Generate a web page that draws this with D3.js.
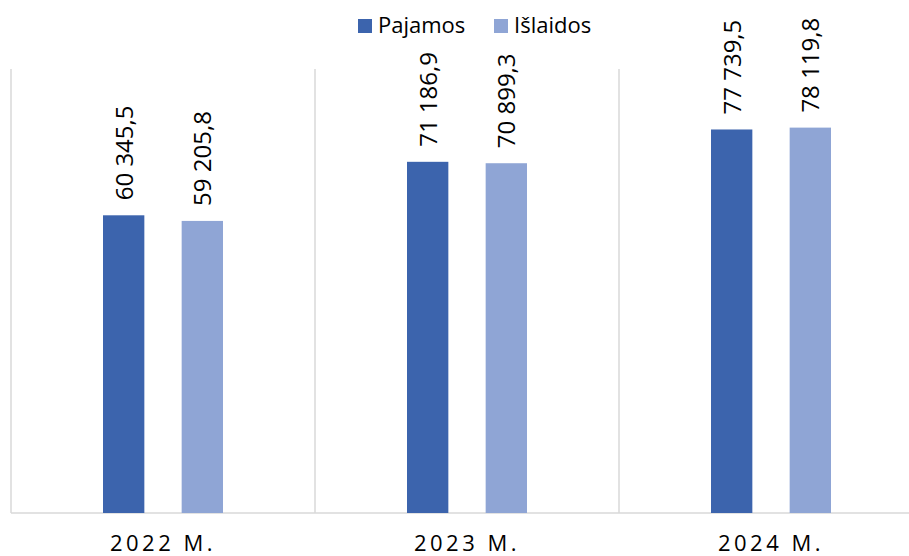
<!DOCTYPE html>
<html>
<head>
<meta charset="utf-8">
<script src="https://cdn.jsdelivr.net/npm/d3@7"></script>
<style>
  body { margin: 0; background: #fff; }
  text { font-family: "Open Sans", sans-serif; fill: #000; }
</style>
</head>
<body>
<div id="chart"></div>
<script>
var years = ["2022 M.", "2023 M.", "2024 M."];
var seriesNames = ["Pajamos", "Išlaidos"];
var pajamos = [60345.5, 71186.9, 77739.5];
var islaidos = [59205.8, 70899.3, 78119.8];
var colors = ["#3c64ad", "#8fa5d5"];

var w = 909, h = 556;
var margin = { top: 69, right: -14, bottom: 43, left: 11 };

var data = years.map((y, i) => ({ year: y, values: [pajamos[i], islaidos[i]] }));

var svg = d3.select("#chart").append("svg")
    .attr("width", w)
    .attr("height", h);

var xscale = d3.scaleBand().domain(years).range([margin.left, w - margin.right]);
var yscale = d3.scaleLinear().domain([0, 90000]).range([h - margin.bottom, margin.top]);

// inner scale for the two bars in each category
var x1 = d3.scaleBand().domain(seriesNames)
    .range([xscale.bandwidth() / 2 - 60, xscale.bandwidth() / 2 + 60])
    .paddingInner(37 / 78).paddingOuter(0);

// vertical gridlines between categories
var edges = years.map(d => xscale(d)).concat([xscale(years[years.length - 1]) + xscale.bandwidth()]);
svg.selectAll("line.grid")
   .data(edges)
   .enter()
   .append("line")
   .attr("class", "grid")
   .attr("x1", d => d).attr("x2", d => d)
   .attr("y1", yscale(90000)).attr("y2", yscale(0))
   .attr("stroke", "#d9d9d9")
   .attr("stroke-width", 1.5);

// baseline
svg.append("line")
   .attr("x1", margin.left).attr("x2", w)
   .attr("y1", yscale(0)).attr("y2", yscale(0))
   .attr("stroke", "#d9d9d9")
   .attr("stroke-width", 1.5);

var groups = svg.selectAll("g.cat")
   .data(data)
   .enter()
   .append("g")
   .attr("class", "cat")
   .attr("transform", d => `translate(${xscale(d.year)},0)`);

groups.selectAll("rect")
   .data(d => d.values.map((v, i) => ({ key: seriesNames[i], value: v, i: i })))
   .enter()
   .append("rect")
   .attr("x", d => x1(d.key))
   .attr("width", x1.bandwidth())
   .attr("y", d => yscale(d.value))
   .attr("height", d => yscale(0) - yscale(d.value))
   .attr("fill", d => colors[d.i]);

var fmt = v => d3.format(",.1f")(v).replace(",", " ").replace(".", ",");

groups.selectAll("text.val")
   .data(d => d.values.map((v, i) => ({ key: seriesNames[i], value: v })))
   .enter()
   .append("text")
   .attr("class", "val")
   .attr("transform", d => `translate(${x1(d.key) + x1.bandwidth() / 2 + 9},${yscale(d.value) - 15}) rotate(-90)`)
   .attr("text-anchor", "start")
   .style("font-size", "24px")
   .text(d => fmt(d.value));

// x-axis labels
svg.selectAll("text.xlab")
   .data(years)
   .enter()
   .append("text")
   .attr("class", "xlab")
   .attr("x", d => xscale(d) + xscale.bandwidth() / 2)
   .attr("y", 551)
   .attr("text-anchor", "middle")
   .style("font-size", "22px")
   .style("letter-spacing", "3.5px")
   .text(d => d);

// legend
var legendX = [358, 494];
var legend = svg.selectAll("g.legend")
   .data(seriesNames)
   .enter()
   .append("g")
   .attr("class", "legend")
   .attr("transform", (d, i) => `translate(${legendX[i]},0)`);

legend.append("rect")
   .attr("x", 0).attr("y", 19)
   .attr("width", 14).attr("height", 14)
   .attr("fill", (d, i) => colors[i]);

legend.append("text")
   .attr("x", 20).attr("y", 33)
   .style("font-size", "22px")
   .text(d => d);
</script>
</body>
</html>
